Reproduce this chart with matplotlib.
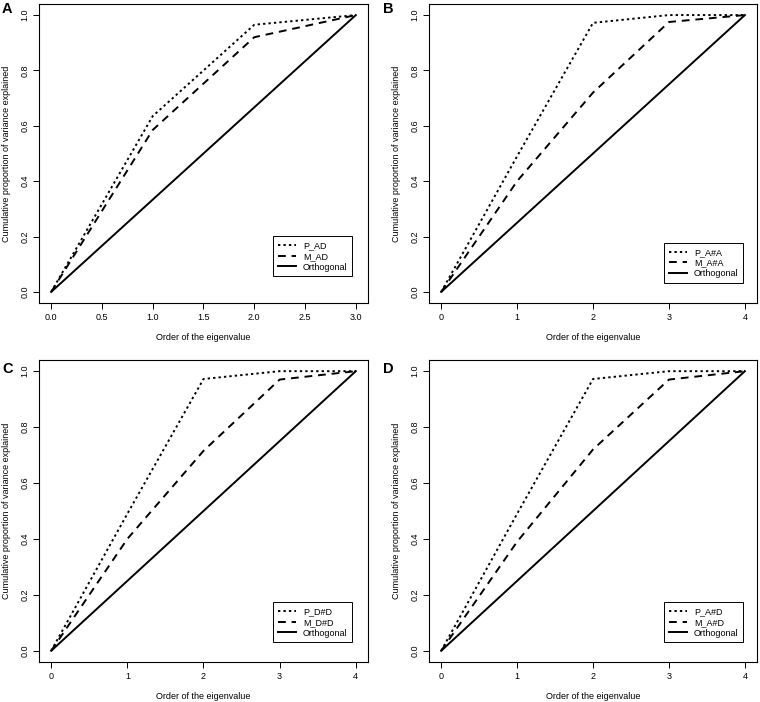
import numpy as np
import matplotlib
matplotlib.use("Agg")
import matplotlib.pyplot as plt

plt.rcParams['font.family'] = ['Liberation Sans', 'DejaVu Sans']

# eigenvalue order
x_a = [0, 1, 2, 3]
x_4 = [0, 1, 2, 3, 4]

# panel A
p_ad = [0, 0.635, 0.965, 1.0]
m_ad = [0, 0.585, 0.920, 1.0]
orth_a = [0, 1 / 3, 2 / 3, 1.0]

# panel B
p_aa = [0, 0.49, 0.972, 1.0, 1.0]
m_aa = [0, 0.40, 0.720, 0.975, 1.0]

# panel C
p_dd = [0, 0.49, 0.972, 1.0, 1.0]
m_dd = [0, 0.40, 0.715, 0.970, 1.0]

# panel D
p_ad2 = [0, 0.49, 0.972, 1.0, 1.0]
m_ad2 = [0, 0.39, 0.720, 0.970, 1.0]

orth_4 = [0, 0.25, 0.5, 0.75, 1.0]

W, H = 760, 702

panels = [
    ("A", x_a, p_ad, m_ad, orth_a, "P_AD", "M_AD", [0.0513, 0.5684, 0.4329, 0.4259], (0.951, 0.09), (2, 2)),
    ("B", x_4, p_aa, m_aa, orth_4, "P_A#A", "M_A#A", [0.5645, 0.5684, 0.4316, 0.4259], (0.957, 0.067), (383, 2)),
    ("C", x_4, p_dd, m_dd, orth_4, "P_D#D", "M_D#D", [0.0513, 0.0570, 0.4329, 0.4302], (0.951, 0.066), (2, 362)),
    ("D", x_4, p_ad2, m_ad2, orth_4, "P_A#D", "M_A#D", [0.5645, 0.0570, 0.4316, 0.4302], (0.957, 0.066), (383, 362)),
]

fig = plt.figure(figsize=(7.6, 7.02), dpi=100)

for tag, x, p, m, o, lp, lm, rect, leg_pos, tag_pos in panels:
    ax = fig.add_axes(rect)
    ax.plot(x, p, color='black', lw=1.4, dashes=(1.2, 1.6), label=lp)
    ax.plot(x, m, color='black', lw=1.4, dashes=(4, 3), label=lm)
    ax.plot(x, o, color='black', lw=1.4, label='Orthogonal')
    xr = x[-1]
    ax.set_xlim(-0.04 * xr, 1.04 * xr)
    ax.set_ylim(-0.04, 1.04)
    if xr == 3:
        ax.set_xticks([0, 0.5, 1, 1.5, 2, 2.5, 3])
        ax.set_xticklabels(['0.0', '0.5', '1.0', '1.5', '2.0', '2.5', '3.0'])
    else:
        ax.set_xticks(x)
    ax.set_yticks([0, 0.2, 0.4, 0.6, 0.8, 1.0])
    ax.set_yticklabels(['0.0', '0.2', '0.4', '0.6', '0.8', '1.0'], rotation=90, va='center')
    ax.tick_params(direction='out', length=4, width=0.7, labelsize=6.5, pad=3)
    for s in ax.spines.values():
        s.set_linewidth(0.8)
    ax.set_xlabel('Order of the eigenvalue', fontsize=6.5, labelpad=8)
    ax.set_ylabel('Cumulative proportion of variance explained', fontsize=6.5, labelpad=7)
    leg = ax.legend(loc='lower right', bbox_to_anchor=leg_pos, fontsize=6.5, fancybox=False,
                    edgecolor='black', framealpha=1, handlelength=2.0, borderpad=0.5,
                    labelspacing=0.2, handletextpad=0.8, borderaxespad=0)
    leg.get_frame().set_linewidth(0.7)
    fig.text(tag_pos[0] / W, 1 - tag_pos[1] / H, tag, fontsize=10.5, fontweight='bold',
             ha='left', va='top')

fig.savefig('out.png', dpi=100)
